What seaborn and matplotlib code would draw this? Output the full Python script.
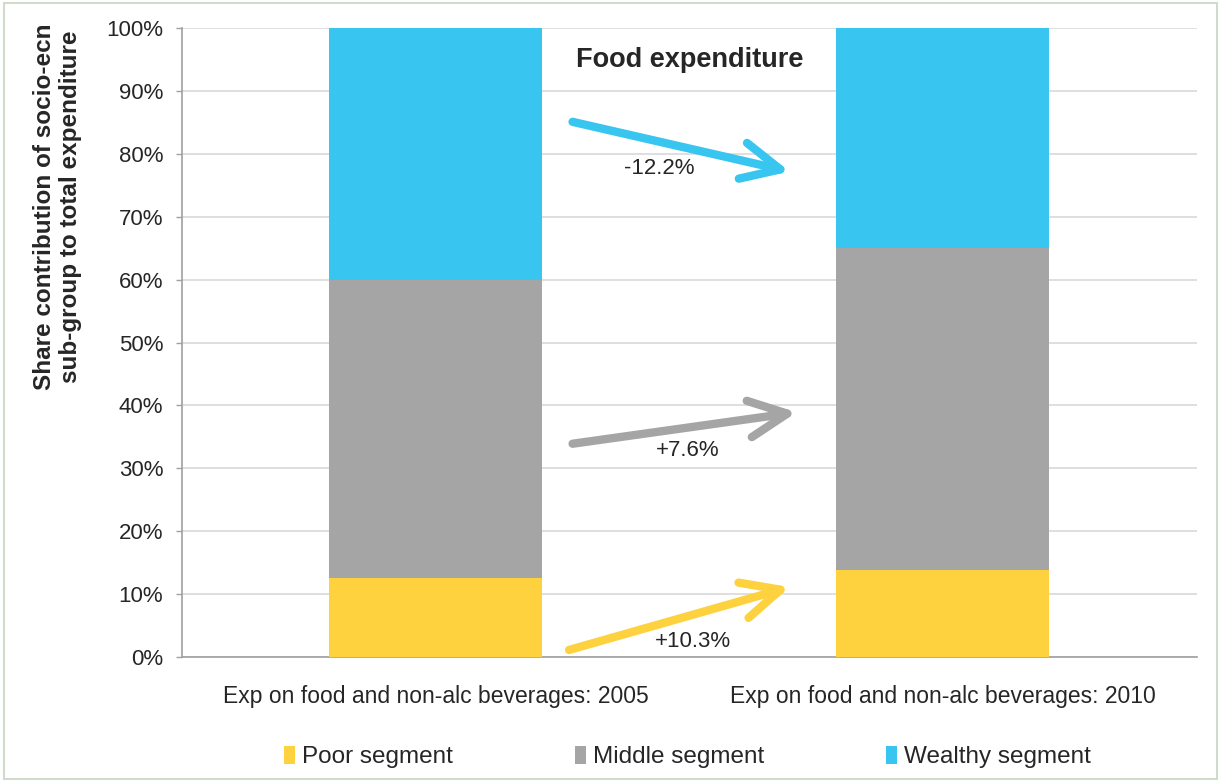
import matplotlib
matplotlib.use("Agg")
import matplotlib.pyplot as plt
from matplotlib.patches import Patch, Rectangle
import seaborn as sns
import pandas as pd

# ---- data ----
categories = ["Exp on food and non-alc beverages: 2005", "Exp on food and non-alc beverages: 2010"]
segments = ["Poor segment", "Middle segment", "Wealthy segment"]
poor = [12.5, 13.8]
middle = [47.5, 51.2]
wealthy = [40.0, 35.0]
changes = ["+10.3%", "+7.6%", "-12.2%"]
yticks = [0, 10, 20, 30, 40, 50, 60, 70, 80, 90, 100]

colors = {"Poor segment": "#FDD23E", "Middle segment": "#A5A5A5", "Wealthy segment": "#38C5EF"}

sns.set_theme(style="white")
plt.rcParams["font.family"] = ["Liberation Sans", "DejaVu Sans"]

fig = plt.figure(figsize=(12.21, 7.82), dpi=100)
ax = fig.add_axes([0.149, 0.160, 0.831, 0.804])

cum_mid = [p + m for p, m in zip(poor, middle)]
cum_top = [c + w for c, w in zip(cum_mid, wealthy)]
df = pd.DataFrame({"cat": categories, "top": cum_top, "mid": cum_mid, "poor": poor})

for col, seg in [("top", "Wealthy segment"), ("mid", "Middle segment"), ("poor", "Poor segment")]:
    sns.barplot(data=df, x="cat", y=col, color=colors[seg], width=0.42, ax=ax,
                saturation=1, linewidth=0, zorder=3)

ax.set_xlim(-0.5, 1.5)
ax.set_ylim(0, 100)
ax.set_yticks(yticks)
ax.set_yticklabels([f"{v}%" for v in yticks], fontsize=16)
ax.yaxis.grid(True, color="#D9D9D9", linewidth=1.2, zorder=0)
ax.set_axisbelow(True)
ax.set_xlabel("")
ax.set_ylabel("")
ax.tick_params(axis="x", labelsize=16.5, length=0, pad=20)
ax.tick_params(axis="y", length=4.5, width=1, color="#A0A0A0", pad=9, left=True)
for s in ["top", "right"]:
    ax.spines[s].set_visible(False)
ax.spines["left"].set_color("#A0A0A0")
ax.spines["bottom"].set_color("#A0A0A0")
ax.spines["left"].set_linewidth(1.2)
ax.spines["bottom"].set_linewidth(1.2)

# faint logo
ax.text(0.04, 90.3, "BFAP", fontsize=30, family="Liberation Serif", color="#E6E6E6",
        ha="center", va="center", zorder=1)
ax.text(0.0, 96.7, "Bureau for Food and\nAgricultural Policy", fontsize=4, color="#E0E0E0",
        ha="left", va="center", zorder=1)

# title
ax.text(0.50, 95.0, "Food expenditure", fontsize=19.5, fontweight="bold", ha="center",
        va="center", zorder=5)

# arrows
arrow_specs = [
    ((0.263, 1.1), (0.698, 11.1), "#FDD23E", (0.507, 2.4), changes[0]),
    ((0.270, 33.9), (0.712, 38.9), "#A5A5A5", (0.497, 32.8), changes[1]),
    ((0.270, 85.1), (0.698, 77.2), "#38C5EF", (0.44, 77.7), changes[2]),
]
for start, end, c, lpos, lab in arrow_specs:
    ax.annotate("", xy=end, xytext=start,
                arrowprops=dict(arrowstyle="->,head_length=2.3,head_width=1.1", color=c,
                                lw=6, shrinkA=0, shrinkB=0, capstyle="round",
                                joinstyle="round"),
                zorder=6)
    ax.text(lpos[0], lpos[1], lab, fontsize=16, ha="center", va="center", zorder=7)

# y label
fig.text(0.047, 0.735, "Share contribution of socio-ecn\nsub-group to total expenditure",
         rotation=90, fontsize=17.5, fontweight="bold", ha="center", va="center",
         linespacing=1.2)

# legend
handles = [Patch(facecolor=colors[s], edgecolor="none", label=s) for s in segments]
fig.legend(handles=handles, loc="center", bbox_to_anchor=(0.563, 0.032), ncol=3,
           frameon=False, fontsize=17.5, handlelength=0.45, handleheight=0.8,
           handletextpad=0.3, columnspacing=5.0)

# figure border
fig.patches.append(Rectangle((0.003, 0.004), 0.994, 0.992, transform=fig.transFigure,
                             fill=False, edgecolor="#CFDCCB", linewidth=1.5))

fig.savefig("out.png", dpi=100)
